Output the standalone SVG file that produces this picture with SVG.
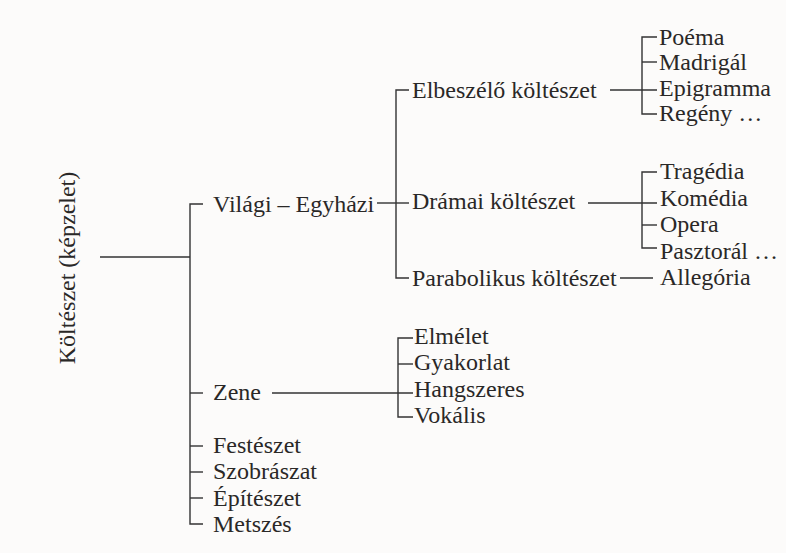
<svg xmlns="http://www.w3.org/2000/svg" width="786" height="553" viewBox="0 0 786 553">
<style>
text{font-family:"Liberation Serif","Times New Roman",serif;font-size:24px;fill:#2a2827}
.c line,.c path{stroke:#333;stroke-width:1.4;fill:none}
</style>
<rect width="786" height="553" fill="#fcfbfa"/>
<g class="c" id="connectors">
<line x1="100" y1="257" x2="190" y2="257"/>
<path d="M203 204H190V524H203"/>
<line x1="190" y1="393" x2="203" y2="393"/>
<line x1="190" y1="446" x2="203" y2="446"/>
<line x1="190" y1="472" x2="203" y2="472"/>
<line x1="190" y1="498" x2="203" y2="498"/>
<line x1="377" y1="203" x2="409" y2="203"/>
<path d="M409 90H396V278H409"/>
<line x1="610" y1="90" x2="657" y2="90"/>
<path d="M657 37H642V114H657"/>
<line x1="642" y1="62" x2="657" y2="62"/>
<line x1="588" y1="203" x2="657" y2="203"/>
<path d="M657 172H642V248H657"/>
<line x1="642" y1="225" x2="657" y2="225"/>
<line x1="620" y1="278" x2="653" y2="278"/>
<line x1="272" y1="393" x2="413" y2="393"/>
<path d="M413 338H398V417H413"/>
<line x1="398" y1="364" x2="413" y2="364"/>
</g>
<g id="root"><text transform="translate(75,268) rotate(-90)" text-anchor="middle">Költészet (képzelet)</text></g>
<g id="vilagi"><text x="213" y="212">Világi – Egyházi</text></g>
<g id="zene"><text x="213" y="400">Zene</text></g>
<g id="festeszet"><text x="213" y="453">Festészet</text></g>
<g id="szobraszat"><text x="213" y="479">Szobrászat</text></g>
<g id="epiteszet"><text x="213" y="506">Építészet</text></g>
<g id="metszes"><text x="213" y="532">Metszés</text></g>
<g id="elbeszelo"><text x="412" y="98">Elbeszélő költészet</text></g>
<g id="dramai"><text x="412" y="209">Drámai költészet</text></g>
<g id="parabolikus"><text x="412" y="286">Parabolikus költészet</text></g>
<g id="poema"><text x="659" y="45">Poéma</text></g>
<g id="madrigal"><text x="659" y="70">Madrigál</text></g>
<g id="epigramma"><text x="659" y="96">Epigramma</text></g>
<g id="regeny"><text x="659" y="121">Regény …</text></g>
<g id="tragedia"><text x="660" y="179">Tragédia</text></g>
<g id="komedia"><text x="660" y="206">Komédia</text></g>
<g id="opera"><text x="660" y="232">Opera</text></g>
<g id="pasztoral"><text x="660" y="259">Pasztorál …</text></g>
<g id="allegoria"><text x="660" y="285">Allegória</text></g>
<g id="elmelet"><text x="414" y="344">Elmélet</text></g>
<g id="gyakorlat"><text x="414" y="370">Gyakorlat</text></g>
<g id="hangszeres"><text x="414" y="397">Hangszeres</text></g>
<g id="vokalis"><text x="414" y="423">Vokális</text></g>
</svg>
